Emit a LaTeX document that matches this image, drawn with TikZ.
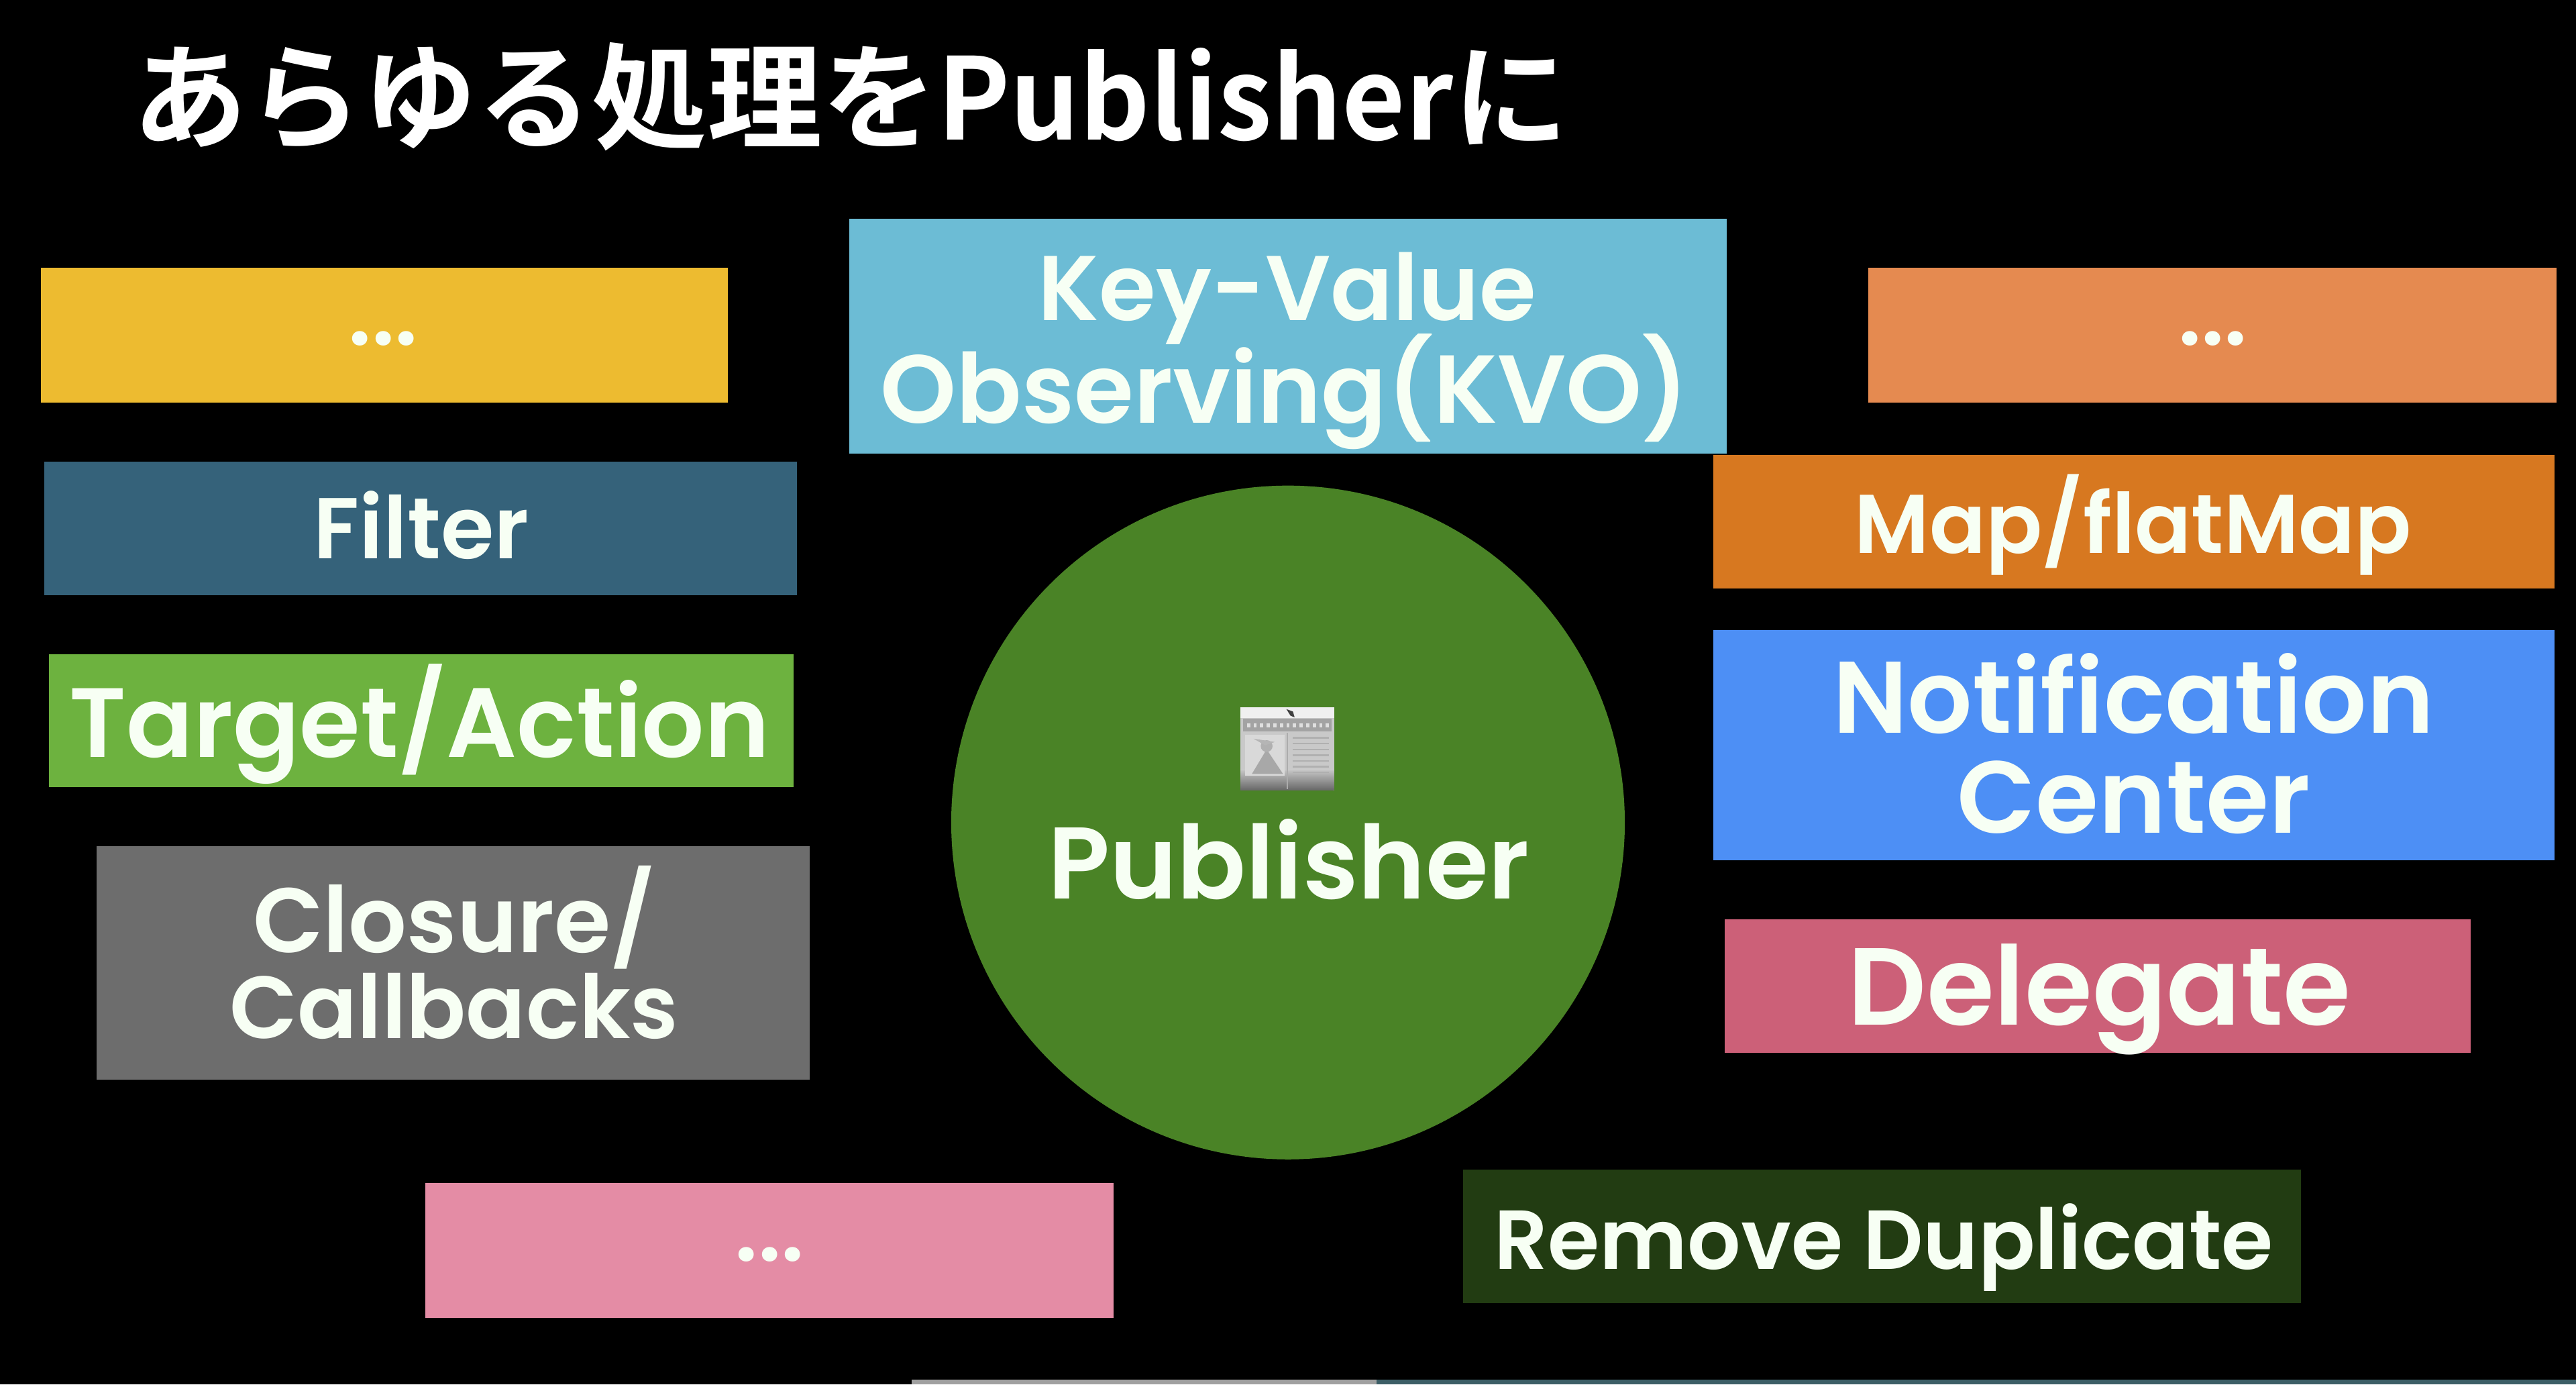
\documentclass[tikz,border=0pt]{standalone}
\usepackage{fontspec}
\usepackage{graphicx}
\setmainfont{Poppins}[UprightFont={* SemiBold}]
\newfontfamily\jpfont{Noto Sans CJK JP}[UprightFont={* Bold}]
\newcommand{\fitw}[2]{\resizebox{#1pt}{!}{#2}}
\definecolor{cYel}{HTML}{EDBB30}
\definecolor{cFilter}{HTML}{35627A}
\definecolor{cTarget}{HTML}{6DB23F}
\definecolor{cClosure}{HTML}{6D6D6D}
\definecolor{cPink}{HTML}{E48CA5}
\definecolor{cKVO}{HTML}{6CBCD5}
\definecolor{cOrLight}{HTML}{E58A50}
\definecolor{cMap}{HTML}{D77820}
\definecolor{cNotif}{HTML}{4D8FF5}
\definecolor{cDeleg}{HTML}{CC6078}
\definecolor{cRemove}{HTML}{223C12}
\definecolor{cCircle}{HTML}{4A8326}
\definecolor{cTxt}{HTML}{F7FFF4}
\definecolor{cBarG}{HTML}{A0A0A0}
\definecolor{cBarT}{HTML}{3C5E66}
\tikzset{
  box/.style={rectangle, draw=none, inner sep=0pt, outer sep=0pt},
  lbl/.style={text=cTxt, inner sep=0pt, outer sep=0pt, anchor=base},
}
\begin{document}
\begin{tikzpicture}[x=1pt, y=-1pt]
\fill[black] (0,0) rectangle (1568,842.4);
\useasboundingbox (0,0) rectangle (1568,842.4);

% title
\node[lbl, text=white, anchor=base west] (title) at (80.5,85)
  {\jpfont\fontsize{70}{80}\selectfont あらゆる処理を\resizebox{314pt}{56pt}{Publisher}に};

% left column
\node[box, fill=cYel, minimum width=418pt, minimum height=82pt] (dotsY) at (234,204) {};
\node[lbl] (tDotsY) at (233.3,210) {\fitw{42}{...}};
\node[box, fill=cFilter, minimum width=458pt, minimum height=81pt] (filter) at (256,321.5) {};
\node[lbl] (tFilter) at (256.5,340) {\fitw{131}{Filter}};
\node[box, fill=cTarget, minimum width=453pt, minimum height=81pt] (target) at (256.5,438.5) {};
\node[lbl] (tTarget) at (255.5,461) {\fitw{426}{Target/Action}};
\node[box, fill=cClosure, minimum width=434pt, minimum height=142pt] (closure) at (276,586) {};
\node[lbl] (tClosure1) at (276.5,579.5) {\fitw{245}{Closure/}};
\node[lbl] (tClosure2) at (276.5,632) {\fitw{273}{Callbacks}};
\node[box, fill=cPink, minimum width=419pt, minimum height=82pt] (dotsP) at (468.5,761) {};
\node[lbl] (tDotsP) at (468.5,767.5) {\fitw{42}{...}};

% centre
\node[box, fill=cKVO, minimum width=534pt, minimum height=143pt] (kvo) at (784,204.5) {};
\node[lbl] (tKVO1) at (783.5,195) {\fitw{303}{Key-Value}};
\node[lbl] (tKVO2) at (782,257.5) {\fitw{492}{Observing(KVO)}};
\node[circle, fill=cCircle, minimum size=410pt, inner sep=0pt] (pub) at (784,500.5) {};
\node[lbl] (tPub) at (784.5,547) {\fitw{293}{Publisher}};

% newspaper icon
\begin{scope}
  \fill[gray!42] (755,430.5) rectangle (812,481);
  \fill[gray!12] (755,430.5) rectangle (812,437);
  \shade[top color=gray!42, bottom color=gray!80!black] (755,468) rectangle (812,481);
  \fill[gray!72] (756.5,437.5) rectangle (810.5,445);
  \foreach \xx in {759,763,...,807} \fill[gray!25] (\xx,440) rectangle (\xx+2,442.5);
  \fill[black!75] (783,431.5) -- (787,433) -- (788,436.5) -- (785.5,435.5) -- cycle;
  \fill[gray!30] (758,447) rectangle (782,472);
  \draw[gray!65, line width=0.8pt] (783.5,446) -- (783.5,480);
  \fill[gray!68] (762,471) -- (771,456) -- (781,471) -- cycle;
  \fill[gray!62] (771,454) circle (3.6);
  \fill[gray!58] (763,449.5) -- (776,451.5) -- (770,453.5) -- cycle;
  \foreach \yy in {449,452.5,...,470} \draw[gray!62, line width=1pt] (787,\yy) -- (809,\yy);
\end{scope}

% right column
\node[box, fill=cOrLight, minimum width=419pt, minimum height=82pt] (dotsO) at (1346.5,204) {};
\node[lbl] (tDotsO) at (1347,210) {\fitw{42}{...}};
\node[box, fill=cMap, minimum width=512pt, minimum height=81pt] (map) at (1299,317.5) {};
\node[lbl] (tMap) at (1298.5,336.5) {\fitw{339}{Map/flatMap}};
\node[box, fill=cNotif, minimum width=512pt, minimum height=140pt] (notif) at (1299,453.5) {};
\node[lbl] (tNotif1) at (1298.6,446) {\fitw{366}{Notification}};
\node[lbl] (tNotif2) at (1298.7,507) {\fitw{215}{Center}};
\node[box, fill=cDeleg, minimum width=454pt, minimum height=81pt] (deleg) at (1277,600) {};
\node[lbl] (tDeleg) at (1278,623.6) {\fitw{306}{Delegate}};
\node[box, fill=cRemove, minimum width=510pt, minimum height=81pt] (remove) at (1145.5,752.4) {};
\node[lbl] (tRemove) at (1146.7,772.4) {\fitw{474}{Remove Duplicate}};

% progress bar
\fill[cBarG] (555,839.6) rectangle (838,842.4);
\fill[cBarT] (838,839.6) rectangle (1568,842.4);
\end{tikzpicture}
\end{document}
